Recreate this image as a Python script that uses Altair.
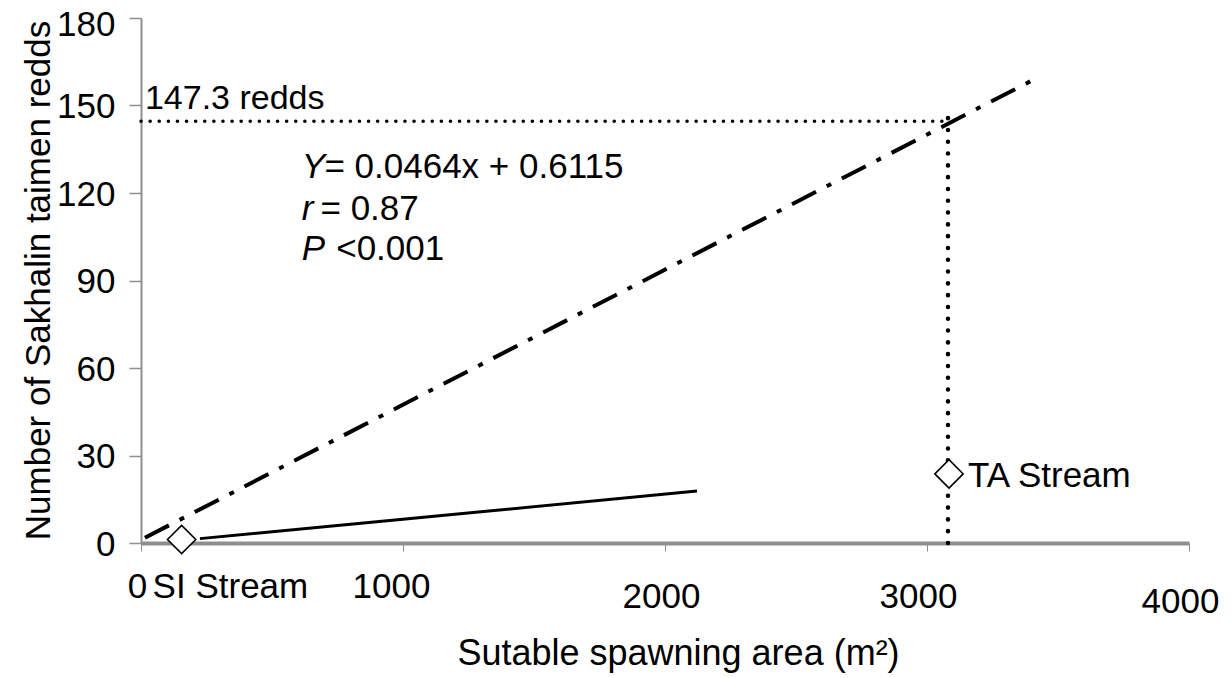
import altair as alt
import pandas as pd

# ---- data ----
streams = ["SI Stream", "TA Stream"]
stream_area = [155, 3084]          # m2
stream_redds = [1.2, 23.7]

reg_x = [15, 3412]                 # regression line (dash-dot) end points
reg_y = [1.8, 159.1]

solid_x = [225, 2122]              # solid line end points
solid_y = [1.5, 17.8]

pred_x = 3080                      # predicted area for TA Stream
pred_y = 147.3                     # predicted redds
guide_y = 144.6                    # level of horizontal dotted guide as drawn

x_ticks = [0, 1000, 2000, 3000, 4000]
y_ticks = [0, 30, 60, 90, 120, 150, 180]

eq_italic = ["Y", "r", "P"]
eq_rest = ["= 0.0464x + 0.6115", "= 0.87", "<0.001"]

FONT = "Liberation Sans"
GRAY = "#8f8f8f"

xs = alt.Scale(domain=[0, 4000], nice=False, zero=False)
ys = alt.Scale(domain=[0, 180], nice=False, zero=False)

pts = pd.DataFrame({"stream": streams, "area": stream_area, "redds": stream_redds})
reg = pd.DataFrame({"x": reg_x, "y": reg_y})
sol = pd.DataFrame({"x": solid_x, "y": solid_y})
hguide = pd.DataFrame({"x": [0], "x2": [pred_x], "y": [guide_y]})
vguide = pd.DataFrame({"x": [pred_x], "y": [0], "y2": [pred_y]})
predlab = pd.DataFrame({"x": [15], "y": [148.8], "t": [f"{pred_y} redds"]})
eq_i = pd.DataFrame({"x": [614, 614, 614], "y": [125.3, 110.9, 97.2], "t": eq_italic})
eq_r = pd.DataFrame({"x": [700, 685, 745], "y": [125.3, 110.9, 97.2], "t": eq_rest})

x_axis = alt.Axis(
    values=x_ticks, grid=False, format="d",
    domainColor=GRAY, domainWidth=4,
    tickColor=GRAY, tickSize=8, tickWidth=1,
    labelFont=FONT, labelFontSize=35, labelColor="black",
    labelBaseline="alphabetic", labelFlush=False, labelOverlap=False,
    labelPadding={"condition": [{"test": "datum.value >= 4000", "value": 61},
                                {"test": "datum.value >= 2000", "value": 56}],
                  "value": 46},
    labelOffset={"condition": [{"test": "datum.value == 1000", "value": -12},
                               {"test": "datum.value >= 3000", "value": -9}],
                 "value": -4},
    title="Sutable spawning area (m²)",
    titleFont=FONT, titleFontSize=36, titleFontWeight="normal", titleColor="black",
    titleX=537, titleY=121.5, titleAlign="center", titleBaseline="alphabetic",
)

y_axis = alt.Axis(
    values=y_ticks, grid=False,
    domainColor=GRAY, domainWidth=2,
    tickColor=GRAY, tickSize=12, tickWidth=1.5,
    labelFont=FONT, labelFontSize=35, labelColor="black",
    labelPadding=14, labelOverlap=False, labelFlush=False,
    labelOffset={"condition": [{"test": "datum.value >= 180", "value": 6}], "value": 1},
    title="Number of Sakhalin taimen redds",
    titleFont=FONT, titleFontSize=35, titleFontWeight="normal", titleColor="black",
    titleX=-92, titleY=262, titleAngle=270, titleAlign="center", titleBaseline="alphabetic",
)

reg_line = alt.Chart(reg).mark_line(
    color="black", strokeWidth=4, strokeDash=[27, 12, 5, 12]
).encode(
    x=alt.X("x:Q", scale=xs, axis=x_axis),
    y=alt.Y("y:Q", scale=ys, axis=y_axis),
)

sol_line = alt.Chart(sol).mark_line(color="black", strokeWidth=3).encode(
    x=alt.X("x:Q", scale=xs), y=alt.Y("y:Q", scale=ys)
)

h_rule = alt.Chart(hguide).mark_rule(
    color="black", strokeWidth=3.5, strokeDash=[0.1, 9], strokeCap="round"
).encode(x=alt.X("x:Q", scale=xs), x2="x2:Q", y=alt.Y("y:Q", scale=ys))

v_rule = alt.Chart(vguide).mark_rule(
    color="black", strokeWidth=4.5, strokeDash=[0.1, 11.7], strokeCap="round"
).encode(x=alt.X("x:Q", scale=xs), y=alt.Y("y:Q", scale=ys), y2="y2:Q")

diamonds = alt.Chart(pts).mark_point(
    shape="diamond", filled=True, fill="white", stroke="black",
    strokeWidth=1.6, size=800, opacity=1
).encode(x=alt.X("area:Q", scale=xs), y=alt.Y("redds:Q", scale=ys))

ta_label = alt.Chart(pts).transform_filter("datum.stream == 'TA Stream'").mark_text(
    font=FONT, fontSize=35, align="left", baseline="alphabetic", dx=19, dy=13, color="black"
).encode(x=alt.X("area:Q", scale=xs), y=alt.Y("redds:Q", scale=ys), text="stream:N")

si_label = alt.Chart(pts).transform_filter("datum.stream == 'SI Stream'").mark_text(
    font=FONT, fontSize=35, align="left", baseline="alphabetic", dx=-29, dy=58, color="black"
).encode(x=alt.X("area:Q", scale=xs), y=alt.Y("redds:Q", scale=ys), text="stream:N")

pred_text = alt.Chart(predlab).mark_text(
    font=FONT, fontSize=34, align="left", baseline="alphabetic", color="black"
).encode(x=alt.X("x:Q", scale=xs), y=alt.Y("y:Q", scale=ys), text="t:N")

eq_italic_text = alt.Chart(eq_i).mark_text(
    font=FONT, fontSize=35, fontStyle="italic", align="left", baseline="alphabetic", color="black"
).encode(x=alt.X("x:Q", scale=xs), y=alt.Y("y:Q", scale=ys), text="t:N")

eq_rest_text = alt.Chart(eq_r).mark_text(
    font=FONT, fontSize=35, align="left", baseline="alphabetic", color="black"
).encode(x=alt.X("x:Q", scale=xs), y=alt.Y("y:Q", scale=ys), text="t:N")

chart = alt.layer(
    reg_line, sol_line, h_rule, v_rule, diamonds,
    ta_label, si_label, pred_text, eq_italic_text, eq_rest_text
).properties(
    width=1048, height=525,
    padding={"left": 141, "top": 18, "right": 43, "bottom": 135},
    autosize=alt.AutoSizeParams(type="none"),
    background="white",
).configure_view(stroke=None)

chart.save("out.html", embed_options={"renderer": "svg", "actions": False})
